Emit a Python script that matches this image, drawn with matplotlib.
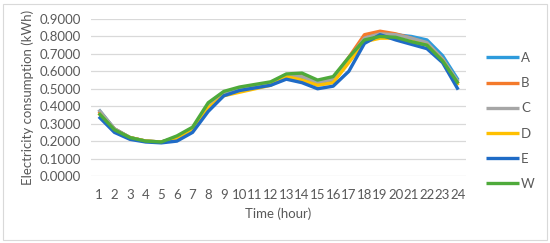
import matplotlib.pyplot as plt
from matplotlib.patches import Rectangle

hours = list(range(1, 25))

A = [0.38, 0.27, 0.22, 0.20, 0.195, 0.22, 0.27, 0.40, 0.475, 0.50, 0.515, 0.53,
     0.57, 0.56, 0.53, 0.55, 0.66, 0.79, 0.82, 0.81, 0.80, 0.78, 0.69, 0.55]
B = [0.37, 0.27, 0.22, 0.20, 0.195, 0.22, 0.27, 0.40, 0.475, 0.50, 0.515, 0.53,
     0.575, 0.575, 0.54, 0.56, 0.68, 0.81, 0.83, 0.815, 0.79, 0.76, 0.67, 0.53]
C = [0.38, 0.27, 0.22, 0.20, 0.195, 0.22, 0.27, 0.40, 0.475, 0.50, 0.515, 0.53,
     0.57, 0.57, 0.535, 0.555, 0.67, 0.79, 0.815, 0.81, 0.79, 0.765, 0.67, 0.54]
D = [0.36, 0.26, 0.22, 0.20, 0.195, 0.21, 0.265, 0.39, 0.46, 0.48, 0.50, 0.52,
     0.57, 0.55, 0.52, 0.535, 0.65, 0.77, 0.79, 0.79, 0.77, 0.75, 0.66, 0.52]
E = [0.34, 0.25, 0.21, 0.195, 0.19, 0.20, 0.25, 0.37, 0.46, 0.49, 0.505, 0.52,
     0.555, 0.535, 0.50, 0.515, 0.60, 0.76, 0.81, 0.78, 0.755, 0.73, 0.65, 0.495]
W = [0.36, 0.265, 0.22, 0.20, 0.195, 0.23, 0.28, 0.42, 0.485, 0.51, 0.525, 0.54,
     0.585, 0.59, 0.55, 0.57, 0.68, 0.78, 0.80, 0.795, 0.77, 0.75, 0.66, 0.53]

series = {"A": A, "B": B, "C": C, "D": D, "E": E, "W": W}
colors = {"A": "#2E9BDC", "B": "#F47A2B", "C": "#A6A6A6",
          "D": "#FFC000", "E": "#1F6BC6", "W": "#4EAA3B"}

plt.rcParams['font.family'] = ['Lato', 'DejaVu Sans']
txt = "#595959"
fs = 9.5

fig = plt.figure(figsize=(5.5, 2.43), dpi=100)
ax = fig.add_axes([91 / 550, 1 - 176 / 243, 375 / 550, 157 / 243])

for name, vals in series.items():
    ax.plot(hours, vals, color=colors[name], lw=2.4, label=name,
            solid_capstyle='butt', solid_joinstyle='round')

ax.set_xlim(0.5, 24.5)
ax.set_ylim(0, 0.9)
ax.set_yticks([i / 10 for i in range(10)])
ax.set_yticklabels(["%.4f" % (i / 10) for i in range(10)])
ax.set_xticks(hours)
ax.grid(axis='y', color='#D9D9D9', lw=0.9)
ax.set_axisbelow(True)
for s in ax.spines.values():
    s.set_visible(False)
ax.tick_params(axis='y', length=0, labelsize=fs, colors=txt, pad=7)
ax.tick_params(axis='x', length=0, labelsize=fs, colors=txt, pad=9)
ax.set_xlabel("Time (hour)", fontsize=fs, color=txt, labelpad=5)
ax.set_ylabel("Electricity consumption (kWh)", fontsize=fs, color=txt, labelpad=4)

fig.legend(loc='center left', bbox_to_anchor=(486 / 550, 1 - 121 / 243),
           frameon=False, fontsize=fs, handlelength=2.5, handletextpad=0.15,
           labelspacing=1.0, labelcolor=txt, borderaxespad=0, borderpad=0)

fig.patches.append(Rectangle((3 / 550, 3 / 243), 544 / 550, 236 / 243,
                             transform=fig.transFigure, fill=False,
                             ec='#D9D9D9', lw=0.8))

fig.savefig("out.png", dpi=100)
